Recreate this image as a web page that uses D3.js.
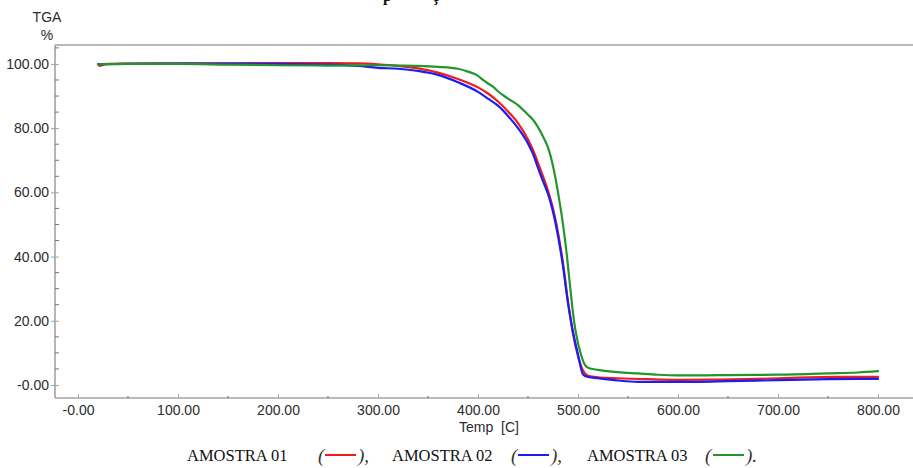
<!DOCTYPE html>
<html>
<head>
<meta charset="utf-8">
<script src="https://cdn.jsdelivr.net/npm/d3@7"></script>
<style>
  html, body { margin: 0; padding: 0; background: #fff; }
  svg { display: block; }
</style>
</head>
<body>
<svg id="chart" width="913" height="468"></svg>
<script>
// ---------- DATA ----------
const seriesNames = ["AMOSTRA 01", "AMOSTRA 02", "AMOSTRA 03"];
const seriesColors = ["#f01c1c", "#1c1cf5", "#22962a"];

const temp01 = [20, 22, 25, 30, 50, 100, 150, 200, 250, 280, 300, 320, 340, 360, 380, 400, 410, 420, 430, 440, 450, 455, 460, 465, 470, 475, 480, 485, 490, 495, 500, 505, 510, 520, 540, 570, 600, 640, 680, 720, 760, 800];
const mass01 = [99.9, 99.4, 99.7, 100.0, 100.1, 100.2, 100.2, 100.3, 100.3, 100.2, 99.9, 99.4, 98.6, 97.3, 95.3, 92.7, 90.8, 88.3, 85.2, 81.6, 76.5, 73.2, 69.2, 65.0, 60.5, 55.0, 47.5, 38.0, 26.0, 16.0, 9.0, 4.5, 2.9, 2.4, 2.1, 1.8, 1.6, 1.7, 1.9, 2.3, 2.5, 2.5];

const temp02 = [20, 50, 100, 150, 200, 250, 280, 300, 320, 340, 360, 380, 400, 410, 420, 430, 440, 450, 455, 460, 465, 470, 475, 480, 485, 490, 495, 500, 505, 510, 520, 540, 560, 580, 600, 620, 650, 700, 750, 800];
const mass02 = [99.9, 100.0, 100.1, 100.1, 100.0, 99.8, 99.4, 98.8, 98.5, 97.8, 96.6, 94.3, 91.3, 89.2, 87.0, 83.8, 80.0, 75.2, 72.0, 67.6, 63.5, 59.5, 54.0, 46.5, 37.0, 25.5, 16.5, 9.5, 3.3, 2.5, 2.1, 1.4, 1.0, 1.0, 1.0, 1.0, 1.2, 1.5, 1.8, 1.9];

const temp03 = [20, 50, 100, 150, 200, 250, 300, 320, 340, 360, 380, 390, 400, 405, 410, 415, 420, 425, 430, 440, 450, 455, 460, 465, 470, 475, 480, 485, 489, 492, 496, 500, 503, 506, 510, 520, 540, 560, 580, 600, 620, 650, 700, 750, 780, 800];
const mass03 = [99.9, 100.0, 100.0, 99.8, 99.6, 99.5, 99.6, 99.5, 99.4, 99.1, 98.5, 97.6, 96.3, 95.0, 93.9, 92.9, 91.5, 90.3, 89.2, 87.2, 84.2, 82.6, 80.3, 77.4, 74.0, 68.2, 60.0, 50.0, 40.0, 31.0, 20.0, 13.0, 9.5, 6.8, 5.4, 4.7, 4.0, 3.6, 3.2, 3.0, 3.0, 3.1, 3.2, 3.6, 3.9, 4.3];

const xTicks = [0, 100, 200, 300, 400, 500, 600, 700, 800];
const xTickLabels = ["-0.00", "100.00", "200.00", "300.00", "400.00", "500.00", "600.00", "700.00", "800.00"];
const yTicks = [0, 20, 40, 60, 80, 100];
const yTickLabels = ["-0.00", "20.00", "40.00", "60.00", "80.00", "100.00"];
const xMinorTicks = [-50, 50, 150, 250, 350, 450, 550, 650, 750];
const yMinorTicks = [5, 10, 15, 25, 30, 35, 45, 50, 55, 65, 70, 75, 85, 90, 95, 105];

// ---------- LAYOUT ----------
const svg = d3.select("#chart");
const pLeft = 55, pRight = 913, pTop = 45, pBottom = 398;

const x = d3.scaleLinear().domain([-23, 835]).range([pLeft, pRight]);
const y = d3.scaleLinear().domain([-4.05, 105.9]).range([pBottom, pTop]);

const axisColor = "#a3a3a3";
const textColor = "#2b2b2b";
const sans = "'Liberation Sans', Arial, sans-serif";
const serif = "'Liberation Serif', 'Times New Roman', serif";

// title remnants at top (clipped in the reference image)
svg.append("text").attr("x", 383).attr("y", 0.5)
  .attr("font-family", serif).attr("font-weight", "bold").attr("font-size", 16)
  .attr("fill", "#111").text("p");
svg.append("text").attr("x", 432).attr("y", 0.5)
  .attr("font-family", serif).attr("font-weight", "bold").attr("font-size", 16)
  .attr("fill", "#111").text("ç");

// frame top line
svg.append("line").attr("x1", pLeft).attr("x2", pRight).attr("y1", pTop).attr("y2", pTop)
  .attr("stroke", axisColor).attr("stroke-width", 1.6);

// Y axis
const yAxis = d3.axisLeft(y).tickValues(yTicks)
  .tickFormat((d, i) => yTickLabels[i]).tickSize(4).tickPadding(2);
const gy = svg.append("g").attr("transform", `translate(${pLeft},0)`).call(yAxis);
gy.select(".domain").attr("stroke", axisColor).attr("stroke-width", 1.6)
  .attr("d", `M0,${pTop}V${pBottom}`);
gy.selectAll(".tick line").attr("stroke", axisColor).attr("x1", 4).attr("x2", -4);
gy.selectAll(".tick text").attr("fill", textColor).attr("font-family", sans).attr("font-size", 14);

// Y minor ticks
svg.append("g").selectAll("line").data(yMinorTicks).join("line")
  .attr("x1", pLeft).attr("x2", pLeft + 4)
  .attr("y1", d => y(d)).attr("y2", d => y(d))
  .attr("stroke", "#777").attr("stroke-width", 1);

// X axis
const xAxis = d3.axisBottom(x).tickValues(xTicks)
  .tickFormat((d, i) => xTickLabels[i]).tickSize(4).tickPadding(3);
const gx = svg.append("g").attr("transform", `translate(0,${pBottom})`).call(xAxis);
gx.select(".domain").attr("stroke", axisColor).attr("stroke-width", 1.6)
  .attr("d", `M${pLeft},0H${pRight}`);
gx.selectAll(".tick line").attr("stroke", axisColor).attr("y1", 0).attr("y2", -4);
gx.selectAll(".tick text").attr("fill", textColor).attr("font-family", sans).attr("font-size", 14);

// X minor ticks
svg.append("g").selectAll("line").data(xMinorTicks.filter(d => x(d) > pLeft)).join("line")
  .attr("x1", d => x(d)).attr("x2", d => x(d))
  .attr("y1", pBottom - 2).attr("y2", pBottom)
  .attr("stroke", "#777").attr("stroke-width", 1.2);

// axis titles
svg.append("text").attr("x", 47).attr("y", 22).attr("text-anchor", "middle")
  .attr("font-family", sans).attr("font-size", 14).attr("fill", textColor).text("TGA");
svg.append("text").attr("x", 47).attr("y", 40).attr("text-anchor", "middle")
  .attr("font-family", sans).attr("font-size", 14).attr("fill", textColor).text("%");
svg.append("text").attr("x", 489).attr("y", 432).attr("text-anchor", "middle")
  .attr("font-family", sans).attr("font-size", 14).attr("fill", textColor)
  .attr("xml:space", "preserve").text("Temp  [C]");

// ---------- CURVES ----------
const series = [
  { t: temp01, m: mass01, c: seriesColors[0] },
  { t: temp02, m: mass02, c: seriesColors[1] },
  { t: temp03, m: mass03, c: seriesColors[2] }
];
const line = d3.line().x(d => x(d[0])).y(d => y(d[1])).curve(d3.curveMonotoneX);
series.forEach(s => {
  const pts = s.t.map((t, i) => [t, s.m[i]]);
  svg.append("path").datum(pts).attr("d", line)
    .attr("fill", "none").attr("stroke", s.c).attr("stroke-width", 2.2)
    .attr("stroke-linejoin", "round").attr("stroke-linecap", "round");
});

// ---------- LEGEND ----------
const legendItems = [
  { name: seriesNames[0], tx: 187, p1: 318, l1: 325, l2: 356, p2: 358, end: "," },
  { name: seriesNames[1], tx: 392, p1: 511, l1: 518, l2: 549, p2: 551, end: "," },
  { name: seriesNames[2], tx: 587, p1: 705, l1: 713, l2: 744, p2: 746, end: "." }
];
const ly = 461;
legendItems.forEach((it, i) => {
  svg.append("text").attr("x", it.tx).attr("y", ly)
    .attr("font-family", serif).attr("font-size", 16.5).attr("fill", "#111").text(it.name);
  svg.append("text").attr("x", it.p1).attr("y", ly + 1)
    .attr("font-family", serif).attr("font-style", "italic").attr("font-size", 19)
    .attr("fill", "#3a3030").text("(");
  svg.append("line").attr("x1", it.l1).attr("x2", it.l2).attr("y1", ly - 6).attr("y2", ly - 6)
    .attr("stroke", seriesColors[i]).attr("stroke-width", 2);
  svg.append("text").attr("x", it.p2).attr("y", ly + 1)
    .attr("font-family", serif).attr("font-style", "italic").attr("font-size", 19)
    .attr("fill", "#3a3030").text(")" + it.end);
});
</script>
</body>
</html>
